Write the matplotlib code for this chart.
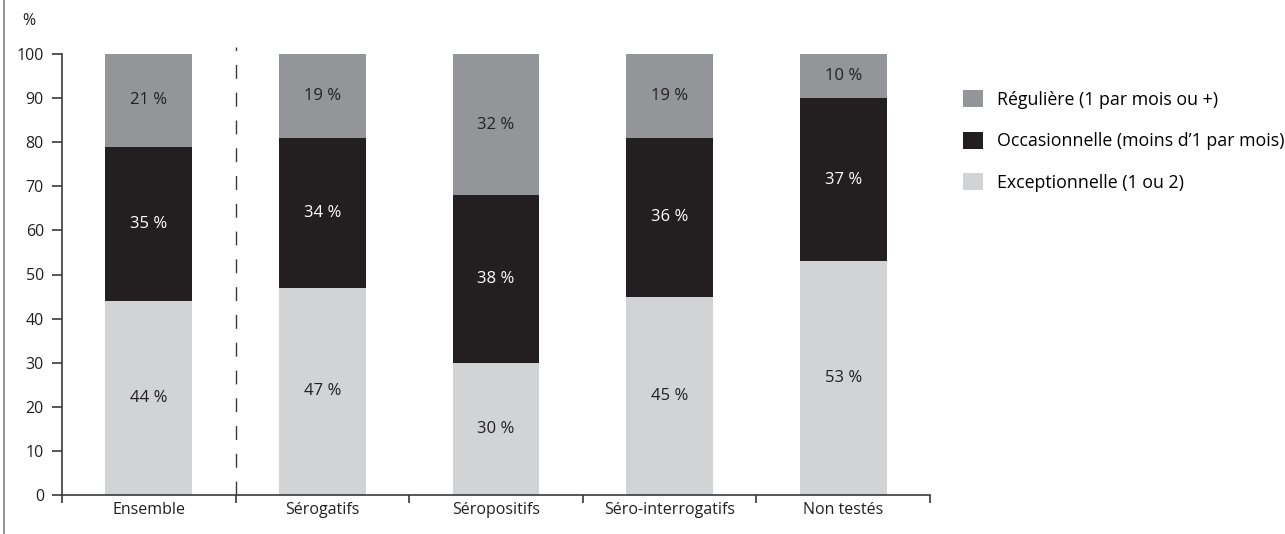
import matplotlib.pyplot as plt
from matplotlib.lines import Line2D
from matplotlib.ticker import FixedLocator
import numpy as np

plt.rcParams['font.family'] = ['Open Sans', 'DejaVu Sans']

categories = ['Ensemble', 'Sérogatifs', 'Séropositifs', 'Séro-interrogatifs', 'Non testés']
exceptionnelle = [44, 47, 30, 45, 53]
occasionnelle = [35, 34, 38, 36, 37]
reguliere = [21, 19, 32, 19, 10]
series_names = ['Exceptionnelle (1 ou 2)', 'Occasionnelle (moins d\u20191 par mois)', 'Régulière (1 par mois ou +)']

col_light = '#d1d3d4'
col_dark = '#231f20'
col_mid = '#939598'
axis_col = '#3a3a3a'

fig = plt.figure(figsize=(12.85, 5.34), dpi=100)
ax = fig.add_axes([62/1285, 1 - 495/534, (930 - 62)/1285, (495 - 54)/534])

x = np.arange(len(categories))
w = 0.5
b1 = ax.bar(x, exceptionnelle, w, color=col_light, label=series_names[0])
b2 = ax.bar(x, occasionnelle, w, bottom=exceptionnelle, color=col_dark, label=series_names[1])
bottom3 = np.array(exceptionnelle) + np.array(occasionnelle)
b3 = ax.bar(x, reguliere, w, bottom=bottom3, color=col_mid, label=series_names[2])

for i in range(len(categories)):
    ax.text(x[i], exceptionnelle[i] / 2, f'{exceptionnelle[i]} %', ha='center', va='center',
            fontsize=12, color='#231f20')
    ax.text(x[i], exceptionnelle[i] + occasionnelle[i] / 2, f'{occasionnelle[i]} %', ha='center',
            va='center', fontsize=12, color='white')
    ax.text(x[i], bottom3[i] + reguliere[i] / 2, f'{reguliere[i]} %', ha='center', va='center',
            fontsize=12, color='#231f20')

ax.set_xlim(-0.5, len(categories) - 0.5)
ax.set_ylim(0, 100)
ax.set_yticks(range(0, 101, 10))
ax.set_xticks(x)
ax.set_xticklabels(categories)
ax.xaxis.set_minor_locator(FixedLocator(np.arange(-0.5, len(categories), 1)))
ax.tick_params(axis='x', which='major', length=0, labelsize=11.5, pad=5, colors='#231f20')
ax.tick_params(axis='x', which='minor', length=6, width=1.2, color=axis_col, direction='out')
ax.tick_params(axis='y', length=7, width=1.2, color=axis_col, labelsize=11.5, pad=6, labelcolor='#231f20')
for s in ['top', 'right']:
    ax.spines[s].set_visible(False)
for s in ['left', 'bottom']:
    ax.spines[s].set_color(axis_col)
    ax.spines[s].set_linewidth(1.2)

# separateur entre Ensemble et les sous-groupes
ax.plot([0.5, 0.5], [0, 101.5], color=axis_col, lw=1, linestyle=(0, (10, 10)), clip_on=False)

ax.text(29/1285, 1 - 21/534, '%', transform=fig.transFigure, ha='center', va='center',
        fontsize=11.5, color='#231f20')

fig.add_artist(Line2D([3.5/1285, 3.5/1285], [0, 1], transform=fig.transFigure, color='#808080', lw=1.2))

handles = [b3, b2, b1]
ax.legend(handles, [series_names[2], series_names[1], series_names[0]],
          loc='upper left', bbox_to_anchor=(963/1285, 1 - 90/534), bbox_transform=fig.transFigure,
          frameon=False, fontsize=12.8, handlelength=1.1, handleheight=1.1, handletextpad=0.8,
          labelspacing=1.3, borderpad=0, borderaxespad=0)

fig.savefig('out.png', dpi=100)
